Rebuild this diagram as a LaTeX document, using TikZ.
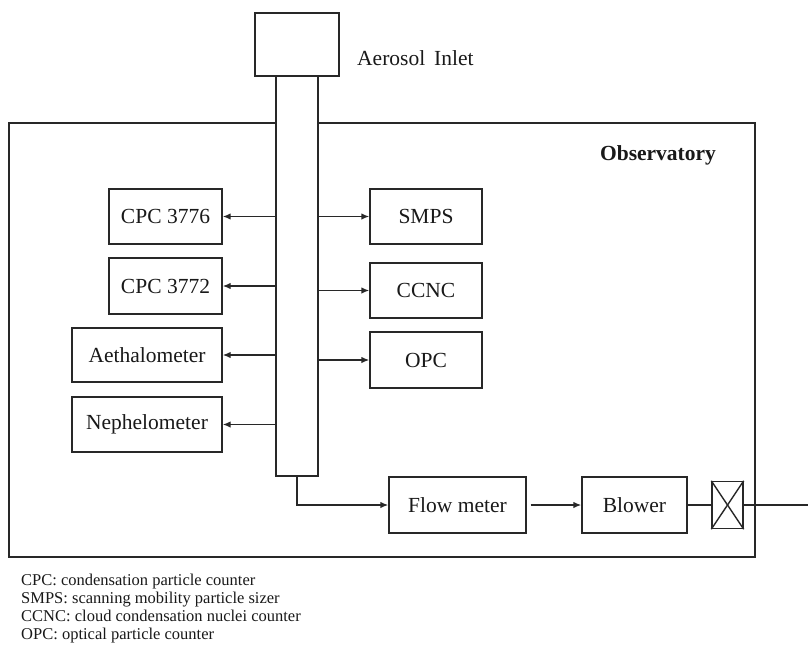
\documentclass[tikz,border=0pt]{standalone}
\usepackage{fontspec}
\setmainfont{Liberation Serif}
\usetikzlibrary{arrows.meta}
\definecolor{ink}{RGB}{40,40,40}
\definecolor{txt}{RGB}{25,25,25}
\begin{document}
\begin{tikzpicture}[x=1pt,y=-1pt,
  every node/.style={text=txt},
  line/.style={draw=ink,line width=1.4pt},
  flow/.style={line,-{Latex[length=8pt,width=6.5pt]}},
  boxed/.style={draw=ink,line width=1.4pt,inner sep=0pt,font=\fontsize{21.5}{24}\selectfont},
  legend/.style={anchor=base west,inner sep=0pt,font=\fontsize{16.5}{18}\selectfont}
]
\useasboundingbox[fill=white] (0,0) rectangle (808,645);

% observatory frame
\node[boxed,minimum width=746pt,minimum height=434pt] (obs) at (382,340) {};
\node[font=\fontsize{21.5}{24}\selectfont\bfseries,inner sep=0pt] (obslabel) at (658,155) {Observatory};

% inlet and column
\node[boxed,minimum width=84pt,minimum height=63pt] (inlet) at (297,44.5) {};
\node[anchor=west,inner sep=0pt,font=\fontsize{21.5}{24}\selectfont] (inletlabel) at (357,58) {Aerosol\ \,Inlet};
\node[boxed,fill=white,minimum width=42pt,minimum height=400pt] (col) at (297,276) {};

% left instruments
\node[boxed,minimum width=113pt,minimum height=55pt] (c1) at (165.5,216.5) {CPC 3776};
\node[boxed,minimum width=113pt,minimum height=56pt] (c2) at (165.5,286) {CPC 3772};
\node[boxed,minimum width=150pt,minimum height=54pt] (ae) at (147,355) {Aethalometer};
\node[boxed,minimum width=150pt,minimum height=55pt] (ne) at (147,424.5) {Nephelometer};

% right instruments
\node[boxed,minimum width=112pt,minimum height=55pt] (smps) at (426,216.5) {SMPS};
\node[boxed,minimum width=112pt,minimum height=55pt] (ccnc) at (426,290.5) {CCNC};
\node[boxed,minimum width=112pt,minimum height=56pt] (opc) at (426,360) {OPC};

% exhaust line
\node[boxed,minimum width=137pt,minimum height=56pt] (fm) at (457.5,505) {Flow meter};
\node[boxed,minimum width=105pt,minimum height=56pt] (bl) at (634.5,505) {Blower};
\node[boxed,minimum width=31pt,minimum height=47pt] (valve) at (727.5,505) {};
\draw[line] (valve.north west) -- (valve.south east);
\draw[line] (valve.south west) -- (valve.north east);
\coordinate (out) at (808,505);

% connectors
\foreach \b in {c1,c2,ae,ne}
  \draw[flow] (col.west |- \b.east) -- (\b.east);
\foreach \b in {smps,ccnc,opc}
  \draw[flow] (col.east |- \b.west) -- (\b.west);
\draw[flow] (col.south) |- (fm.west);
\draw[flow,shorten <=4pt] (fm.east) -- (bl.west);
\draw[line] (bl.east) -- (valve.west);
\draw[line] (valve.east) -- (out);

% legend
\node[legend] (leg1) at (21,585) {CPC: condensation particle counter};
\node[legend] (leg2) at (21,603) {SMPS: scanning mobility particle sizer};
\node[legend] (leg3) at (21,621) {CCNC: cloud condensation nuclei counter};
\node[legend] (leg4) at (21,639) {OPC: optical particle counter};
\end{tikzpicture}
\end{document}
